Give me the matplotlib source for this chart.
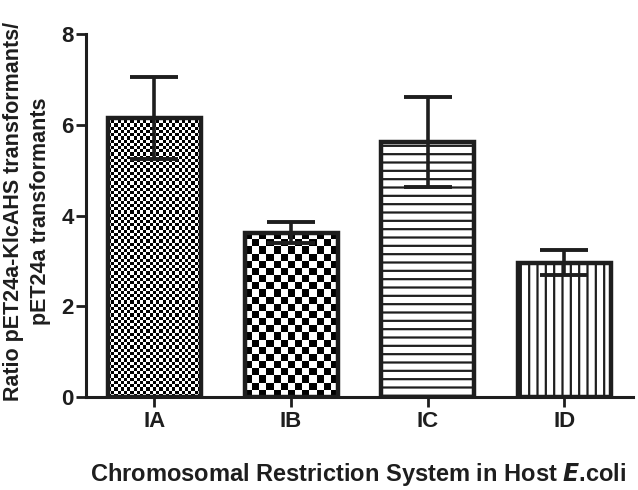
import matplotlib.pyplot as plt
import numpy as np

plt.rcParams['font.family'] = ['Liberation Sans', 'DejaVu Sans']

# data
groups = ['IA', 'IB', 'IC', 'ID']
means = [6.15, 3.62, 5.62, 2.96]
errs = [0.90, 0.23, 1.00, 0.28]

fig = plt.figure(figsize=(6.38, 4.9), dpi=100)
ax = fig.add_axes([0.1348, 0.1898, 0.857, 0.7408])

x = np.arange(len(groups))
width = 0.68
ink = '#1e1e1e'

bars = ax.bar(x, means, width, color='white', edgecolor='none', zorder=1)

# fill patterns: fine checker, coarse checker, horizontal lines, vertical lines
ax.set_xlim(-0.5, 3.5)
ax.set_ylim(0, 8)
px_x = 0.857 * 638 / 4.0   # pixels per x unit
px_y = 0.7408 * 490 / 8.0  # pixels per y unit


def checker(bar, cell):
    x0 = bar.get_x()
    w = bar.get_width()
    h = bar.get_height()
    ncol = max(1, int(round(w * px_x / cell)))
    nrow = max(1, int(round(h * px_y / cell)))
    ii, jj = np.indices((nrow, ncol))
    img = ((ii + jj) % 2).astype(float)
    im = ax.imshow(img, extent=(x0, x0 + w, 0, h), cmap='gray', vmin=0, vmax=1,
                   interpolation='nearest', aspect='auto', zorder=1.5)
    im.set_clip_path(bar)


checker(bars[0], 3.2)
checker(bars[1], 7.0)

plt.rcParams['hatch.linewidth'] = 1.6
plt.rcParams['hatch.color'] = ink
ax.bar(x[2], means[2], width, color='none', edgecolor=ink, hatch='--', linewidth=0, zorder=1.6)
ax.bar(x[3], means[3], width, color='none', edgecolor=ink, hatch='||', linewidth=0, zorder=1.6)

# outlines on top
ax.bar(x, means, width, fill=False, edgecolor=ink, linewidth=3.2, zorder=2)
ax.set_xlim(-0.5, 3.5)
ax.set_ylim(0, 8)

ax.errorbar(x, means, yerr=errs, fmt='none', ecolor=ink, elinewidth=2.6,
            capsize=17, capthick=2.8, zorder=3)

for s in ['top', 'right']:
    ax.spines[s].set_visible(False)
for s in ['left', 'bottom']:
    ax.spines[s].set_linewidth(2.2)
    ax.spines[s].set_color(ink)

ax.set_yticks([0, 2, 4, 6, 8])
ax.set_xticks(x)
ax.set_xticklabels(groups)
ax.tick_params(axis='y', length=7, width=2.0, color=ink, labelsize=16, pad=2)
ax.tick_params(axis='x', length=7, width=2.0, color=ink, labelsize=16, pad=3)
for lab in ax.get_yticklabels() + ax.get_xticklabels():
    lab.set_fontweight('bold')
    lab.set_color(ink)

fig.text(27 / 638, 1 - 211 / 490,
         'Ratio pET24a-KlcAHS transformants/\npET24a transformants',
         rotation=90, ha='center', va='center', multialignment='center',
         fontsize=15.5, fontweight='bold', color=ink, linespacing=1.35)
fig.text(358 / 638, 1 - 474 / 490,
         'Chromosomal Restriction System in Host $\\mathbfit{E}$.coli',
         ha='center', va='center', fontsize=17, fontweight='bold', color=ink)

fig.savefig('out.png', dpi=100)
